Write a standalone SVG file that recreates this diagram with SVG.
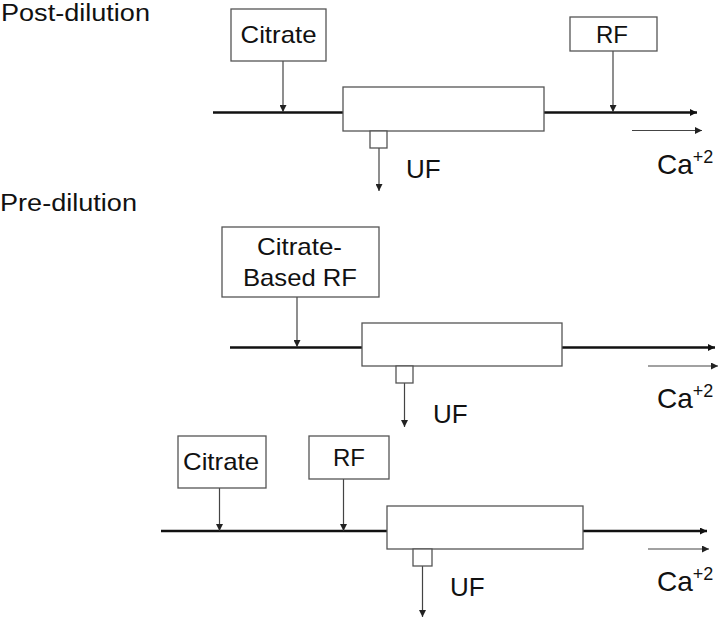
<svg xmlns="http://www.w3.org/2000/svg" width="720" height="620" viewBox="0 0 720 620">
<defs>
<style>
text{font-family:"Liberation Sans",Arial,sans-serif;fill:#111}
.t{font-size:24px}
.ti{font-size:23px}
.uf{font-size:26px}
.ca{font-size:28px}
.sup{font-size:18px}
.box{fill:#fff;stroke:#555;stroke-width:1.3}
.main{stroke:#111;stroke-width:2.6;fill:none}
.thin{stroke:#444;stroke-width:1.2;fill:none}
</style>
<marker id="ahm" viewBox="0 0 10 10" refX="10" refY="5" markerWidth="9" markerHeight="7" markerUnits="userSpaceOnUse" orient="auto"><path d="M0,0 L10,5 L0,10 z" fill="#111"/></marker>
<marker id="aht" viewBox="0 0 10 10" refX="10" refY="5" markerWidth="8" markerHeight="7" markerUnits="userSpaceOnUse" orient="auto"><path d="M0,0 L10,5 L0,10 z" fill="#222"/></marker>
</defs>
<rect width="720" height="620" fill="#fff"/>

<text class="ti" x="1" y="21" textLength="149" lengthAdjust="spacingAndGlyphs">Post-dilution</text>
<text class="ti" x="0" y="211" textLength="137" lengthAdjust="spacingAndGlyphs">Pre-dilution</text>

<g id="connectors">
<line class="main" x1="213" y1="112.5" x2="697" y2="112.5" marker-end="url(#ahm)"/>
<line class="thin" x1="283" y1="61" x2="283" y2="112" marker-end="url(#aht)"/>
<line class="thin" x1="613" y1="51" x2="613" y2="112" marker-end="url(#aht)"/>
<line class="thin" x1="379" y1="148" x2="379" y2="191" marker-end="url(#aht)"/>
<line class="thin" x1="632" y1="130.5" x2="702" y2="130.5" marker-end="url(#aht)"/>
<line class="main" x1="230" y1="347.5" x2="715" y2="347.5" marker-end="url(#ahm)"/>
<line class="thin" x1="297" y1="297" x2="297" y2="347" marker-end="url(#aht)"/>
<line class="thin" x1="404.5" y1="383" x2="404.5" y2="427" marker-end="url(#aht)"/>
<line class="thin" x1="648" y1="366" x2="718" y2="366" marker-end="url(#aht)"/>
<line class="main" x1="161" y1="531" x2="707" y2="531" marker-end="url(#ahm)"/>
<line class="thin" x1="219.5" y1="488" x2="219.5" y2="531" marker-end="url(#aht)"/>
<line class="thin" x1="343.5" y1="479" x2="343.5" y2="531" marker-end="url(#aht)"/>
<line class="thin" x1="422.5" y1="566" x2="422.5" y2="617" marker-end="url(#aht)"/>
<line class="thin" x1="648" y1="549" x2="709" y2="549" marker-end="url(#aht)"/>
</g>

<g id="citrate1">
<rect class="box" x="231" y="9" width="95" height="52"/>
<text class="t" x="278.5" y="43" text-anchor="middle" textLength="76" lengthAdjust="spacingAndGlyphs">Citrate</text>
</g>
<g id="rf1">
<rect class="box" x="570" y="17" width="87" height="34"/>
<text class="t" x="612" y="42.5" text-anchor="middle">RF</text>
</g>
<g id="filter1">
<rect class="box" x="343" y="87" width="201" height="44"/>
</g>
<g id="port1">
<rect class="box" x="370" y="131" width="17" height="17"/>
</g>
<g id="uf1">
<text class="uf" x="406" y="178">UF</text>
</g>
<g id="ca1">
<text class="ca" x="657" y="174">Ca<tspan class="sup" dy="-11">+2</tspan></text>
</g>

<g id="cbrf2">
<rect class="box" x="222" y="227" width="157" height="70"/>
<text class="t" x="299.5" y="255" text-anchor="middle" textLength="85" lengthAdjust="spacingAndGlyphs">Citrate-</text>
<text class="t" x="300" y="286" text-anchor="middle" textLength="114" lengthAdjust="spacingAndGlyphs">Based RF</text>
</g>
<g id="filter2">
<rect class="box" x="362" y="323" width="200" height="43"/>
</g>
<g id="port2">
<rect class="box" x="396" y="366" width="17" height="17"/>
</g>
<g id="uf2">
<text class="uf" x="433" y="423">UF</text>
</g>
<g id="ca2">
<text class="ca" x="657" y="408">Ca<tspan class="sup" dy="-11">+2</tspan></text>
</g>

<g id="citrate3">
<rect class="box" x="178" y="436" width="88" height="52"/>
<text class="t" x="221" y="470" text-anchor="middle" textLength="76" lengthAdjust="spacingAndGlyphs">Citrate</text>
</g>
<g id="rf3">
<rect class="box" x="309" y="436" width="80" height="43"/>
<text class="t" x="349" y="466" text-anchor="middle">RF</text>
</g>
<g id="filter3">
<rect class="box" x="387" y="506" width="196" height="43"/>
</g>
<g id="port3">
<rect class="box" x="413" y="549" width="19" height="17"/>
</g>
<g id="uf3">
<text class="uf" x="450" y="596">UF</text>
</g>
<g id="ca3">
<text class="ca" x="657" y="591">Ca<tspan class="sup" dy="-11">+2</tspan></text>
</g>
</svg>
